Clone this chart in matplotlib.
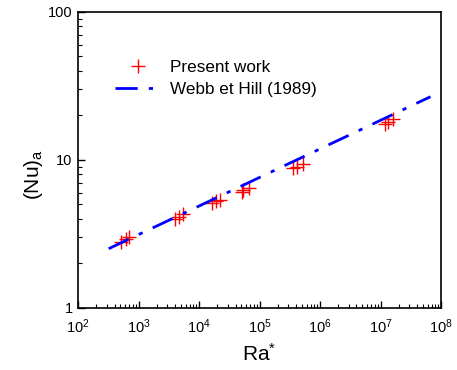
import numpy as np
import matplotlib.pyplot as plt
from matplotlib.ticker import LogLocator, NullFormatter

# present work
ra_pw = [514, 614, 705, 4010, 4670, 5500, 16200, 19100, 22200,
         50800, 54000, 67800, 3.62e5, 4.22e5, 5.18e5, 1.19e7, 1.35e7, 1.63e7]
nu_pw = [2.78, 2.91, 3.0, 3.99, 4.14, 4.32, 5.1, 5.28, 5.37,
         6.1, 6.27, 6.44, 8.79, 9.01, 9.35, 17.5, 17.9, 18.9]

# Webb et Hill (1989) correlation, end points
ra_wh = [3.2e2, 6.7e7]
nu_wh = [2.51, 26.7]

plt.rcParams['font.family'] = ['Liberation Sans', 'DejaVu Sans']
plt.rcParams['mathtext.fontset'] = 'custom'
plt.rcParams['mathtext.rm'] = 'Liberation Sans'
plt.rcParams['mathtext.it'] = 'Liberation Sans'

fig = plt.figure(figsize=(4.57, 3.70), dpi=100)
ax = fig.add_axes([0.171, 0.168, 0.794, 0.800])

ax.plot(ra_pw, nu_pw, ls='none', marker='+', color='red', ms=10, mew=1.0,
        label='Present work')
ax.plot(ra_wh, nu_wh, color='blue', lw=2, dashes=(8, 4, 1.5, 4),
        label='Webb et Hill (1989)')

ax.set_xscale('log')
ax.set_yscale('log')
ax.set_xlim(1e2, 1e8)
ax.set_ylim(1, 100)
ax.xaxis.set_major_locator(LogLocator(base=10, numticks=10))
ax.xaxis.set_minor_locator(LogLocator(base=10, subs=np.arange(2, 10), numticks=20))
ax.yaxis.set_minor_locator(LogLocator(base=10, subs=np.arange(2, 10), numticks=20))
ax.yaxis.set_minor_formatter(NullFormatter())
ax.set_yticks([1, 10, 100])
ax.set_yticklabels(['1', '10', '100'])

ax.tick_params(which='both', direction='in', top=False, right=False,
               labelsize=10.5)
ax.tick_params(axis='x', which='major', pad=7)
ax.tick_params(axis='y', which='major', pad=4)
ax.tick_params(which='major', length=5, width=1)
ax.tick_params(which='minor', length=3, width=0.8)
for s in ax.spines.values():
    s.set_linewidth(1.2)

ax.set_xlabel(r'Ra$^{*}$', fontsize=15, labelpad=5)
ax.set_ylabel(r'(Nu)$_{a}$', fontsize=15)
ax.yaxis.set_label_coords(-0.09, 0.45)

ax.legend(loc='upper left', bbox_to_anchor=(0.06, 0.89), frameon=False,
          fontsize=12.3, handlelength=2.6, handletextpad=0.6, labelspacing=0.45)

plt.savefig('out.png', dpi=100)
